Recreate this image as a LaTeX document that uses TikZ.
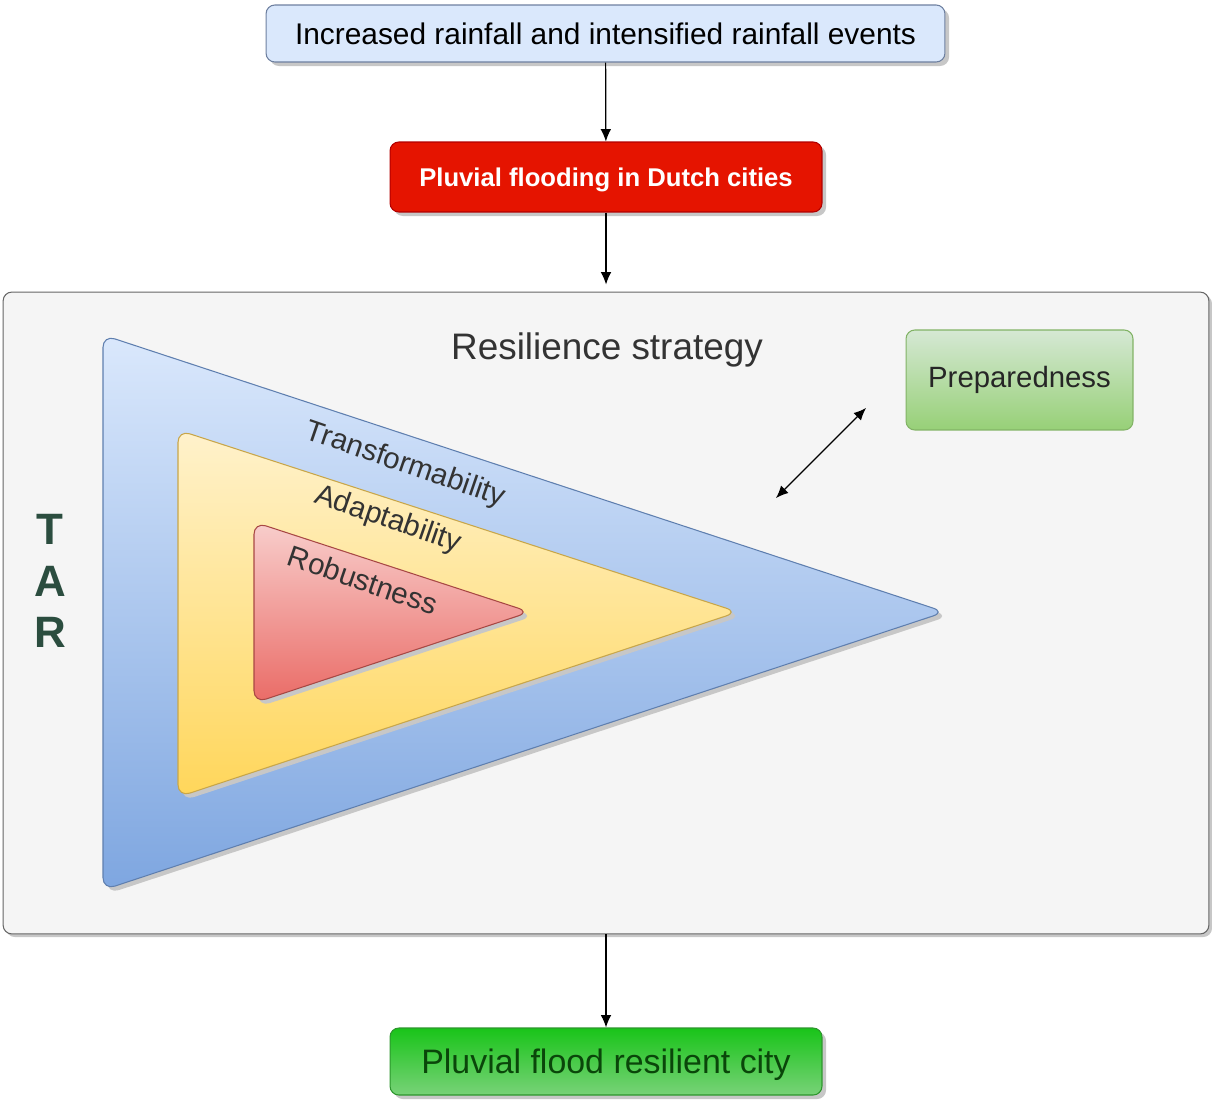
\documentclass[tikz,border=0pt]{standalone}
\usepackage{fontspec}
\setmainfont{Liberation Sans}
\usetikzlibrary{arrows.meta}
\definecolor{tarcol}{HTML}{2B4D3F}
\definecolor{labcol}{HTML}{333333}
\definecolor{rainfill}{HTML}{DAE8FC}
\definecolor{raindraw}{HTML}{6E80A0}
\definecolor{floodfill}{HTML}{E51400}
\definecolor{flooddraw}{HTML}{B20000}
\definecolor{preptop}{HTML}{D5E8D4}
\definecolor{prepbot}{HTML}{97D077}
\definecolor{prepdraw}{HTML}{82B366}
\definecolor{citytop}{HTML}{19C419}
\definecolor{citybot}{HTML}{78D278}
\definecolor{citydraw}{HTML}{2D962D}
\definecolor{citytext}{HTML}{0A460A}
\definecolor{bluetop}{HTML}{DAE8FC}
\definecolor{bluebot}{HTML}{7EA6E0}
\definecolor{bluedraw}{HTML}{5F7FAF}
\definecolor{yellowtop}{HTML}{FFF2CC}
\definecolor{yellowbot}{HTML}{FFD65A}
\definecolor{yellowdraw}{HTML}{C8A64A}
\definecolor{redtop}{HTML}{F8CECC}
\definecolor{redbot}{HTML}{EA6B66}
\definecolor{reddraw}{HTML}{A84844}
\def\bluetri{(103,335) -- (945,612) -- (103,890) -- cycle}
\def\yellowtri{(178,430) -- (738,612) -- (178,797) -- cycle}
\def\redtri{(254,522) -- (530,612) -- (254,703) -- cycle}
\newcommand{\fsz}[1]{\fontsize{#1}{#1}\selectfont}

\begin{document}
\begin{tikzpicture}[x=0.02cm,y=-0.02cm,
	box/.style={rounded corners=5pt, line width=0.6pt, inner sep=0pt},
	arr/.style={-{Latex[length=7pt,width=6pt]}, line width=0.7pt},
	shade box/.style={fill=black!22, rounded corners=5pt}]
	\useasboundingbox (0,0) rectangle (1212,1102);
	% shadows of the boxes
	\fill[shade box] (270,9) rectangle (949,66);
	\fill[shade box] (394,146) rectangle (826,216);
	\fill[shade box] (910,334) rectangle (1137,434);
	\fill[shade box] (394,1032) rectangle (826,1099);
	\fill[shade box] (6,295) rectangle (1212,937);
	% boxes
	\node[box, draw=raindraw, fill=rainfill,
		minimum width=13.58cm, minimum height=1.14cm] (rain) at (605.5,33.5)
		{\fsz{17}Increased rainfall and intensified rainfall events};
	\node[box, draw=flooddraw, fill=floodfill, text depth=0pt,
		text=white, minimum width=8.64cm, minimum height=1.4cm] (flood) at (606,177)
		{\fsz{14.6}\bfseries Pluvial flooding in Dutch cities};
	\node[box, draw=black!60, fill=black!4,
		minimum width=24.12cm, minimum height=12.84cm] (frame) at (606,613) {};
	\node[box, draw=prepdraw, top color=preptop, bottom color=prepbot,
		text=black!85, minimum width=4.54cm, minimum height=2cm] (prep) at (1019.5,380)
		{\fsz{16.7}Preparedness};
	\node[box, draw=citydraw, top color=citytop, bottom color=citybot, text depth=0pt,
		text=citytext, minimum width=8.64cm, minimum height=1.34cm] (city) at (606,1061.5)
		{\fsz{19.3}Pluvial flood resilient city};
	\node[text=labcol] (title) at (607,350) {\fsz{21}Resilience strategy};
	% triangles
	\begin{scope}[rounded corners=7pt]
		\fill[black!22, shift={(4,4)}] \bluetri;
		\shade[top color=bluetop, bottom color=bluebot] \bluetri;
		\draw[bluedraw, line width=0.6pt] \bluetri;
		\fill[black!22, shift={(4,4)}] \yellowtri;
		\shade[top color=yellowtop, bottom color=yellowbot] \yellowtri;
		\draw[yellowdraw, line width=0.6pt] \yellowtri;
		\fill[black!22, shift={(4,4)}] \redtri;
		\shade[top color=redtop, bottom color=redbot] \redtri;
		\draw[reddraw, line width=0.6pt] \redtri;
	\end{scope}
	\node[rotate=-19, text=labcol, inner sep=0pt] (trans) at (405,465) {\fsz{16.8}Transformability};
	\node[rotate=-19, text=labcol, inner sep=0pt] (adapt) at (388,520) {\fsz{16.8}Adaptability};
	\node[rotate=-19, text=labcol, inner sep=0pt] (robust) at (363,580) {\fsz{16.8}Robustness};
	\node[text=tarcol, align=center] (tar) at (50,581) {\fsz{25}\bfseries T\\[11pt]\fsz{25}\bfseries A\\[11pt]\fsz{25}\bfseries R};
	% connectors
	\coordinate (near) at (776,498);
	\coordinate (far) at (866,408);
	\draw[arr] (rain) -- (flood);
	\draw[arr, shorten >=7*0.02cm] (flood) -- (frame);
	\draw[arr] (frame) -- (city);
	\draw[arr, {Latex[length=7pt,width=6pt]}-{Latex[length=7pt,width=6pt]}] (near) -- (far);
\end{tikzpicture}
\end{document}
